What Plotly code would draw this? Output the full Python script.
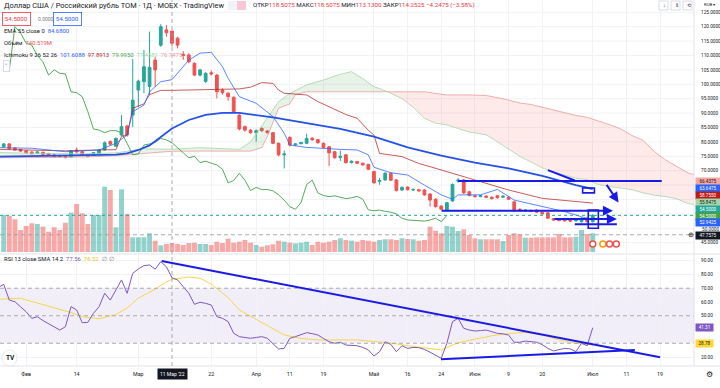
import plotly.graph_objects as go

# ---------------- data (bar index: 0 = 11 Mar 2022, trading days) ----------------
bar_idx = list(range(-30, 76))
opens = [78.3, 79.3, 77.9, 77.4, 76.9, 76.5, 76.1, 76.4, 76.0, 75.5, 75.3, 75.1, 74.8, 77.2, 76.6, 75.5, 75.3, 76.1, 77.2, 80.1,
         78.5, 82.4, 85.5, 89.3, 98.0, 100.9, 99.2, 108.4, 113.6, 118.9,
         118.5075, 116.0, 110.4, 110.2, 107.3, 103.2, 101.0, 104.0, 103.2, 98.0, 96.9, 95.5, 89.3, 85.3, 84.1, 83.2, 84.7, 83.8,
         83.2, 79.5, 75.5, 81.6, 78.9, 79.4, 79.5, 81.3, 80.8, 79.5, 78.3, 76.6, 74.6, 75.5, 72.8, 73.2, 72.6, 72.2, 69.7, 66.3,
         66.8, 69.1, 66.8, 63.3, 64.3, 63.3, 63.4, 63.3, 61.9, 60.1, 57.7, 56.4, 59.5, 66.4, 66.8, 62.7, 61.3, 61.0, 61.2, 60.8,
         61.3, 60.8, 60.8, 59.2, 56.6, 56.0, 56.2, 56.3, 55.6, 55.4, 53.3, 53.1, 53.0, 52.9, 52.6, 52.3, 53.5, 52.3]
highs = [79.6, 79.5, 78.2, 77.6, 77.1, 76.7, 76.8, 76.6, 76.2, 75.7, 75.5, 75.3, 77.1, 78.0, 76.8, 75.8, 76.5, 77.5, 80.2, 80.5,
         81.6, 89.3, 86.0, 108.8, 101.6, 111.9, 118.3, 109.6, 120.9, 120.6,
         118.5075, 116.5, 111.5, 110.8, 107.6, 105.4, 104.2, 104.8, 103.6, 98.6, 97.3, 95.8, 89.6, 85.7, 84.5, 84.3, 85.0, 84.1,
         83.5, 79.8, 77.0, 81.9, 79.6, 80.0, 82.8, 81.6, 81.0, 79.8, 78.6, 76.9, 77.0, 75.8, 73.6, 73.4, 72.8, 72.4, 70.0, 67.5,
         69.5, 69.4, 67.1, 64.6, 64.6, 63.8, 63.7, 63.6, 62.2, 60.4, 58.0, 59.2, 65.6, 67.5, 67.1, 63.0, 61.7, 61.6, 61.5, 61.1,
         61.6, 61.5, 61.1, 59.6, 56.9, 56.6, 56.5, 56.6, 55.9, 55.7, 53.6, 53.4, 53.3, 53.2, 53.2, 53.8, 53.8, 54.9]
lows = [78.0, 77.4, 77.0, 76.6, 76.0, 75.7, 75.9, 75.5, 75.2, 74.7, 74.7, 74.3, 74.6, 76.3, 75.2, 74.7, 75.1, 75.9, 77.0, 78.9,
        78.3, 82.0, 81.8, 85.1, 92.2, 96.9, 96.3, 99.2, 113.0, 116.5,
        113.13, 112.5, 108.5, 107.3, 102.8, 102.7, 100.5, 103.0, 95.1, 96.4, 94.3, 90.0, 84.0, 83.5, 82.8, 80.1, 83.5, 82.9,
        79.2, 75.0, 70.8, 78.5, 78.6, 79.1, 79.2, 80.4, 79.4, 77.8, 71.6, 74.2, 73.4, 72.5, 72.5, 72.4, 71.8, 70.2, 65.5, 65.1,
        66.5, 66.4, 62.8, 63.0, 63.1, 63.0, 62.7, 61.3, 57.5, 57.2, 56.3, 56.1, 59.2, 65.8, 62.0, 61.1, 60.7, 60.8, 60.5, 60.0,
        60.3, 60.5, 59.8, 55.6, 55.8, 55.8, 55.6, 55.3, 54.7, 53.2, 52.6, 52.4, 52.3, 52.2, 52.3, 52.0, 51.9, 52.0]
closes = [79.3, 77.6, 77.2, 76.8, 76.2, 75.9, 76.5, 75.7, 75.4, 74.9, 74.9, 74.6, 76.9, 76.5, 75.4, 74.9, 76.3, 77.2, 79.7, 79.2,
          81.2, 85.3, 82.4, 94.5, 101.1, 106.1, 105.9, 105.0, 120.0, 117.9,
          114.2525, 113.6, 110.0, 107.8, 103.2, 105.0, 103.8, 103.6, 97.4, 97.1, 95.7, 90.5, 84.5, 84.1, 83.2, 83.9, 83.9, 83.2,
          79.5, 75.5, 75.8, 78.9, 79.3, 79.8, 81.2, 80.7, 79.7, 78.1, 76.2, 74.5, 75.0, 72.8, 73.3, 72.6, 72.0, 70.5, 65.8, 66.6,
          69.1, 66.7, 63.1, 64.2, 63.4, 63.5, 63.0, 61.6, 59.8, 57.5, 56.6, 58.9, 65.2, 66.7, 62.3, 61.4, 61.0, 61.3, 60.8, 60.3,
          60.6, 61.1, 60.1, 56.4, 56.1, 56.3, 55.9, 55.6, 55.0, 53.5, 52.9, 52.7, 52.6, 52.5, 52.9, 53.5, 52.3, 54.5]
volumes_m = [3045, 2963, 2691, 1811, 2140, 2362, 2304, 2082, 1671, 2033, 1811, 2411, 3234, 3950, 3185, 2304, 3045, 3045, 5374, 5103,
             2033, 5160, 3127, 1210, 1210, 1210, 1539, 930, 551, 658,
             740.519, 658, 576, 741, 765, 658, 658, 576, 848, 741, 1095, 765, 848, 988, 765, 576, 436, 551, 634, 930, 848, 765,
             716, 765, 848, 576, 848, 765, 848, 988, 1128, 988, 930, 848, 988, 930, 848, 988, 1045, 1045, 988, 1128, 1070, 1045,
             930, 988, 2082, 1753, 1539, 2140, 2082, 1728, 1868, 1399, 1128, 1045, 1045, 1045, 1045, 905, 1399, 1539, 1457,
             1177, 1177, 1210, 1210, 1210, 1210, 1481, 1210, 1210, 1259, 1811, 1481, 1539]

tick_idx = [-26, -17, -6, 7, 15, 21, 27, 36, 42, 48, 54, 60, 66, 75, 81, 87]
tick_text = ['Фев', '14', 'Мар', '22', 'Апр', '11', '19', 'Май', '16', '24', 'Июн', '9', '20', 'Июл', '11', '19']
# ticks hidden behind the value labels in the reference are left out
price_ticks = [45, 70, 75, 80, 85, 90, 95, 100, 105, 110, 115, 120, 125]
grid_price = [45, 50, 55, 60, 65, 70, 75, 80, 85, 90, 95, 100, 105, 110, 115, 120, 125]
rsi_ticks = [20, 50, 60, 70, 80, 90]

ema_idx = [-31, -19, -10, -8, -6, -4, -2, 0, 3, 6, 9, 12, 18, 24, 30, 36, 42, 48, 54, 60, 66, 72, 75]
ema_val = [74.9, 75.2, 75.6, 76.0, 77.2, 78.8, 81.8, 84.68, 87.6, 89.4, 90.1, 90.1, 88.5, 86.4, 84.5, 81.8, 78.1, 75.2,
           72.8, 70.8, 68.2, 65.0, 63.6475]
tenkan_idx = [-31, -25, -19, -13, -10, -8, -7, -5, -4, -2, 0, 1, 3, 5, 7, 9, 10, 12, 15, 18, 20, 21, 24, 30, 33, 35, 36,
              39, 42, 45, 48, 50, 51, 55, 58, 61, 66, 70, 73, 75]
tenkan_val = [78.0, 77.8, 76.6, 77.2, 79.5, 82.4, 90.5, 92.8, 97.4, 100.9, 101.6088, 103.8, 108.4, 110.8, 111.1, 106.1, 102.1,
              95.7, 93.4, 88.8, 83.0, 78.9, 78.1, 77.4, 77.2, 75.5, 71.2, 69.3, 68.5, 65.0, 61.6, 60.1, 61.6, 61.6, 63.5,
              59.8, 57.5, 55.8, 54.0, 52.9425]
kijun_idx = [-31, -19, -13, -10, -9, -8, -7, -5, -4, -2, 0, 12, 14, 16, 18, 19, 20, 24, 26, 28, 31, 33, 35, 36, 37, 41, 44,
             46, 49, 54, 60, 66, 72, 75]
kijun_val = [77.4, 76.9, 77.2, 77.3, 81.9, 82.4, 91.7, 93.2, 96.4, 97.9, 97.8913, 98.4, 99.0, 100.6, 100.3, 98.0, 96.9, 96.3,
             94.0, 92.2, 89.5, 88.2, 84.0, 82.4, 76.0, 74.9, 72.5, 71.4, 69.7, 66.8, 63.3, 60.4, 59.2, 58.755]
cloud_idx = [-31, -25, -20, -15, -10, -5, 0, 5, 10, 12, 14, 16, 17, 19, 21, 22, 24, 27, 30, 32, 34, 36, 38.5, 41, 43, 45,
             47, 49, 53, 56, 59, 62, 64, 66, 68, 70, 72, 74, 76, 78, 80, 82, 84, 86, 88, 90, 92, 94, 96, 98, 100]
span_a = [76.3, 76.0, 75.9, 75.9, 76.2, 77.6, 77.4581, 78.0, 77.5, 77.4, 80.0, 85.5, 88.5, 94.0, 96.8, 97.8, 99.8, 101.5,
          103.5, 104.4, 102.0, 99.2, 97.4, 95.0, 92.0, 88.2, 86.5, 85.9, 83.4, 82.5, 78.8, 75.0, 73.0, 71.0, 69.6, 68.4,
          67.4, 66.9, 65.2, 64.5, 63.9, 63.4, 62.3, 61.5, 61.0, 60.2, 58.6, 58.0, 57.2, 56.5, 55.8475]
span_b = [74.5, 74.5, 74.6, 74.8, 75.2, 76.0, 76.7475, 76.8, 76.8, 76.8, 76.8, 78.0, 81.9, 91.7, 93.2, 96.4, 97.4, 97.4,
          97.4, 97.4, 97.4, 97.4, 97.4, 97.4, 97.4, 97.4, 96.8, 96.3, 96.3, 96.1, 95.0, 93.5, 93.0, 92.0, 91.0, 90.0, 89.2,
          88.5, 87.3, 86.0, 84.5, 82.2, 80.5, 76.6, 73.7, 71.5, 69.2, 68.2, 67.5, 67.0, 66.4375]
lag_shift = 26

rsi_idx = list(range(-31, 76))
rsi_val = [70.5, 72.8, 61.4, 60.2, 56.5, 52.9, 48.1, 49.3, 46.5, 44.0, 42.0, 39.6, 42.0, 56.6, 54.2, 44.9, 45.2, 51.8, 56.6,
           66.3, 61.4, 68.7, 76.0, 66.3, 80.8, 84.0, 86.4, 86.9, 83.8, 89.3, 85.6,
           77.56, 76.0, 71.1, 66.3, 58.3, 59.8, 59.0, 57.8, 49.3, 48.1, 45.7, 37.2, 34.8, 34.2, 33.6, 34.2, 34.8, 33.6, 30.0,
           25.8, 26.3, 33.6, 34.8, 36.2, 37.7, 37.0, 36.0, 33.5, 31.1, 30.0, 30.7, 28.7, 28.5, 28.2, 27.0, 25.1, 20.7, 23.9,
           31.1, 29.2, 23.9, 28.2, 26.3, 27.0, 26.8, 25.5, 23.5, 21.5, 19.1, 30.0, 45.7, 48.1, 40.9, 39.6, 38.9, 39.2, 39.6,
           38.4, 37.2, 36.8, 36.0, 30.7, 30.7, 31.6, 31.2, 30.7, 29.0, 26.3, 24.4, 25.6, 26.3, 25.9, 23.9, 30.0, 28.2, 41.31]
rsi_sma_idx = [-31, -27, -25, -21, -18, -16, -13, -10, -8, -6, -3, -1, 0, 3, 5, 7, 10, 12, 15, 17, 20, 23, 26, 33, 39, 42,
               45, 48, 49, 51, 54, 57, 60, 63, 66, 69, 72, 75]
rsi_sma_val = [62.0, 62.7, 60.4, 55.6, 52.3, 49.3, 47.8, 50.8, 55.6, 62.8, 69.3, 74.5, 76.52, 78.1, 77.2, 73.0, 63.2, 54.2,
               47.5, 43.3, 36.0, 33.5, 32.4, 32.4, 30.1, 28.3, 26.9, 25.1, 27.0, 30.3, 33.0, 35.4, 37.1, 37.9, 36.0, 32.4,
               30.0, 28.78]

crosshair_idx = 0
crosshair_price = 47.7575
last_price = 54.5

# user drawings (bar index, value)
price_lines = [((51.0, 66.4), (87.3, 66.4)), ((67.0, 70.2), (71.8, 66.6)), ((71.8, 51.4), (79.3, 51.4))]
price_arrows = [((47.8, 56.1), (78.6, 56.1)), ((67.9, 53.2), (79.3, 53.2)), ((77.3, 65.6), (79.6, 59.0))]
price_rects = [(74.2, 50.0, 76.0, 56.35), (73.2, 62.3, 75.3, 64.0)]
rsi_lines = [((-1.84, 89.8), (87.0, 19.8)), ((47.95, 18.3), (82.5, 25.1))]
event_idx = [75, 76.8, 78.0, 79.2]
event_colors = ['#ef5350', '#ff9800', '#ef5350', '#ef5350']
event_level = 44.55

assert len(opens) == len(highs) == len(lows) == len(closes) == len(volumes_m) == len(bar_idx)
assert len(rsi_idx) == len(rsi_val) and len(cloud_idx) == len(span_a) == len(span_b)

# ---------------- layout constants ----------------
PW, PH = 694, 366
XR = [-30.66, 93.05]
GRID = '#f0f2f6'
BLUE_DRAW = '#1a1ae6'
TEXT = '#131722'


def px(x):
    return x / PW


def py(y):
    return 1 - y / PH


fig = go.Figure()

# volume (base axis, underneath)
vol_colors = ['rgba(38,166,154,0.5)' if c >= o else 'rgba(239,83,80,0.5)' for o, c in zip(opens, closes)]
fig.add_trace(go.Bar(x=bar_idx, y=volumes_m, marker=dict(color=vol_colors, line=dict(width=0)),
                     xaxis='x', yaxis='y', hoverinfo='skip'))

# ichimoku cloud
s = cloud_idx.index(38.5)
fig.add_trace(go.Scatter(x=cloud_idx[:s + 1], y=span_b[:s + 1], mode='lines', line=dict(color='#ef9a9a', width=0.8),
                         xaxis='x', yaxis='y2'))
fig.add_trace(go.Scatter(x=cloud_idx[:s + 1], y=span_a[:s + 1], mode='lines', line=dict(color='#a5d6a7', width=0.8),
                         fill='tonexty', fillcolor='rgba(67,160,71,0.13)', xaxis='x', yaxis='y2'))
fig.add_trace(go.Scatter(x=cloud_idx[s:], y=span_a[s:], mode='lines', line=dict(color='#a5d6a7', width=0.8),
                         xaxis='x', yaxis='y2'))
fig.add_trace(go.Scatter(x=cloud_idx[s:], y=span_b[s:], mode='lines', line=dict(color='#ef9a9a', width=0.8),
                         fill='tonexty', fillcolor='rgba(244,67,54,0.11)', xaxis='x', yaxis='y2'))

# lagging span = closes shifted back
lag_x = [k - lag_shift for k in bar_idx if k - lag_shift >= bar_idx[0]]
lag_y = [c for k, c in zip(bar_idx, closes) if k - lag_shift >= bar_idx[0]]
fig.add_trace(go.Scatter(x=lag_x, y=lag_y, mode='lines', line=dict(color='#43a047', width=0.9), xaxis='x', yaxis='y2'))
fig.add_trace(go.Scatter(x=kijun_idx, y=kijun_val, mode='lines', line=dict(color='#b71c1c', width=0.9),
                         opacity=0.8, xaxis='x', yaxis='y2'))
fig.add_trace(go.Scatter(x=tenkan_idx, y=tenkan_val, mode='lines', line=dict(color='#2962ff', width=0.9),
                         opacity=0.85, xaxis='x', yaxis='y2'))
fig.add_trace(go.Scatter(x=ema_idx, y=ema_val, mode='lines', line=dict(color='#2451e6', width=1.8),
                         xaxis='x', yaxis='y2'))

fig.add_trace(go.Candlestick(x=bar_idx, open=opens, high=highs, low=lows, close=closes,
                             increasing=dict(line=dict(color='#26a69a', width=1), fillcolor='#26a69a'),
                             decreasing=dict(line=dict(color='#ef5350', width=1), fillcolor='#ef5350'),
                             whiskerwidth=0, xaxis='x', yaxis='y2'))

fig.add_trace(go.Scatter(x=event_idx, y=[event_level] * len(event_idx), mode='markers',
                         marker=dict(size=6, color='white', line=dict(color=event_colors, width=1.5)),
                         xaxis='x', yaxis='y2'))

# RSI panel
fig.add_trace(go.Scatter(x=rsi_sma_idx, y=rsi_sma_val, mode='lines', line=dict(color='#f7d648', width=1),
                         xaxis='x2', yaxis='y3'))
fig.add_trace(go.Scatter(x=rsi_idx, y=rsi_val, mode='lines', line=dict(color='#7e57c2', width=1),
                         xaxis='x2', yaxis='y3'))

shapes = []
# horizontal price grid (incl. levels whose tick text is hidden)
for g in grid_price:
    shapes.append(dict(type='line', xref='paper', x0=0, x1=1, yref='y2', y0=g, y1=g,
                       line=dict(color=GRID, width=1), layer='below'))
# RSI band + levels
shapes.append(dict(type='rect', xref='paper', x0=0, x1=1, yref='y3', y0=30, y1=70,
                   fillcolor='rgba(126,87,194,0.1)', line=dict(width=0), layer='below'))
for lv in (70, 50, 30):
    shapes.append(dict(type='line', xref='paper', x0=0, x1=1, yref='y3', y0=lv, y1=lv,
                       line=dict(color='#9598a1', width=0.8, dash='4px,3px')))
# pane separators / borders
shapes.append(dict(type='line', xref='paper', x0=0, x1=(PW + 26) / PW, yref='paper', y0=py(254), y1=py(254),
                   line=dict(color='#e0e3eb', width=1)))
shapes.append(dict(type='line', xref='paper', x0=0, x1=(PW + 26) / PW, yref='paper', y0=0, y1=0,
                   line=dict(color='#e0e3eb', width=1)))
shapes.append(dict(type='line', xref='paper', x0=1, x1=1, yref='paper', y0=0, y1=1,
                   line=dict(color='#e0e3eb', width=1)))
# price line and crosshair
shapes.append(dict(type='line', xref='paper', x0=0, x1=1, yref='y2', y0=last_price, y1=last_price,
                   line=dict(color='#26a69a', width=1, dash='dot')))
shapes.append(dict(type='line', xref='paper', x0=0, x1=1, yref='y2', y0=crosshair_price, y1=crosshair_price,
                   line=dict(color='#9598a1', width=0.8, dash='4px,3px')))
shapes.append(dict(type='line', xref='x', x0=crosshair_idx, x1=crosshair_idx, yref='paper', y0=0, y1=1,
                   line=dict(color='#9598a1', width=0.8, dash='4px,3px')))
# drawings
for (a, b) in price_lines:
    shapes.append(dict(type='line', xref='x', yref='y2', x0=a[0], y0=a[1], x1=b[0], y1=b[1],
                       line=dict(color=BLUE_DRAW, width=2)))
for (x0, y0, x1, y1) in price_rects:
    shapes.append(dict(type='rect', xref='x', yref='y2', x0=x0, y0=y0, x1=x1, y1=y1,
                       line=dict(color=BLUE_DRAW, width=1.6)))
for (a, b) in rsi_lines:
    shapes.append(dict(type='line', xref='x2', yref='y3', x0=a[0], y0=a[1], x1=b[0], y1=b[1],
                       line=dict(color=BLUE_DRAW, width=2)))
# header pill + top-right buttons
shapes.append(dict(type='rect', xref='paper', yref='paper', x0=px(228), x1=px(237), y0=py(10), y1=py(1),
                   fillcolor='#f0f3fa', line=dict(width=0)))
shapes.append(dict(type='rect', xref='paper', yref='paper', x0=px(237), x1=px(246), y0=py(10), y1=py(1),
                   fillcolor='#f9c6d3', line=dict(width=0)))
for bx in (659, 671, 683):
    shapes.append(dict(type='rect', xref='paper', yref='paper', x0=px(bx), x1=px(bx + 9), y0=py(10), y1=py(1),
                       fillcolor='white', line=dict(color='#d1d4dc', width=0.8)))
shapes.append(dict(type='circle', xref='paper', yref='paper', x0=px(2), x1=px(17), y0=py(366), y1=py(350),
                   fillcolor='white', line=dict(color='#e0e3eb', width=0.8)))

annotations = []
for (a, b) in price_arrows:
    annotations.append(dict(xref='x', yref='y2', axref='x', ayref='y2', x=b[0], y=b[1], ax=a[0], ay=a[1],
                            text='', showarrow=True, arrowhead=2, arrowsize=1, arrowwidth=2, arrowcolor=BLUE_DRAW))


def txt(x, y, text, size, color=TEXT, **kw):
    d = dict(xref='paper', yref='paper', x=px(x), y=py(y), text=text, showarrow=False,
             xanchor='left', yanchor='middle', font=dict(size=size, color=color))
    d.update(kw)
    annotations.append(d)


RED = '#f23645'
txt(2, 5.5, 'Доллар США / Российский рубль TOM · 1Д · MOEX · TradingView', 7.4)
txt(251, 5.5, 'ОТКР<span style="color:%s">118.5075</span> МАКС<span style="color:%s">118.5075</span> '
              'МИН<span style="color:%s">113.1300</span> ЗАКР<span style="color:%s">114.2525</span> '
              '<span style="color:%s">−4.2475 (−3.58%%)</span>' % (RED, RED, RED, RED, RED), 6.2)
txt(2, 18.5, '54.5000', 6.2, RED, bordercolor=RED, borderwidth=0.8, borderpad=2, bgcolor='white')
txt(36, 18.5, '0.0000', 5, '#787b86')
txt(53, 18.5, '54.5000', 6.2, '#2962ff', bordercolor='#2962ff', borderwidth=0.8, borderpad=2, bgcolor='white')
txt(2, 31, 'EMA 55 close 0  <span style="color:#2962ff">84.6800</span>', 5.9)
txt(2, 43, 'Объём  <span style="color:#ef5350">740.519M</span>', 5.9)
txt(2, 54.5, 'Ichimoku 9 26 52 26  <span style="color:#2962ff">101.6088</span>  '
             '<span style="color:#b71c1c">97.8913</span>  <span style="color:#43a047">79.9950</span>  '
             '<span style="color:#a5d6a7">77.4581</span>  <span style="color:#ef9a9a">76.7475</span>', 5.9)
txt(3, 66, '˄', 6, TEXT, bordercolor='#d1d4dc', borderwidth=0.8, borderpad=1.5, bgcolor='white')
txt(2, 258.5, 'RSI 13 close SMA 14 2  <span style="color:#7e57c2">77.56</span>  '
              '<span style="color:#e6c229">76.52</span>  <span style="color:#787b86">∅  ∅</span>', 5.9)
txt(4, 358, '<b>TV</b>', 6.5)
txt(661, 5.5, '↓', 5)
txt(672.5, 5.5, '⇕', 5)
txt(684.5, 5.5, '⟲', 5)
txt(702, 4.5, 'RUB ▾', 4.3)
txt(704, 374, '⚙', 8, '#131722')
txt(686, 235.3, '⊕', 7, '#131722')

# right-hand price labels
right_labels = [(181.7, '66.4375', '#f4a6a2', TEXT), (188.7, '63.6475', '#2962ff', 'white'),
                (195.4, '58.7550', '#b71c1c', 'white'), (202.2, '55.8475', '#a5d6a7', TEXT),
                (209.2, '54.5000', '#26a69a', 'white'), (216.0, '54.5000', '#43a047', 'white'),
                (222.8, '52.9425', '#2962ff', 'white'), (235.3, '47.7575', '#131722', 'white'),
                (327.7, '41.31', '#7e57c2', 'white'), (343.8, '28.78', '#fdd835', TEXT)]
for (yy, t, bg, fg) in right_labels:
    w = 22 if len(t) > 5 else 15
    annotations.append(dict(xref='paper', yref='paper', x=px(695), y=py(yy), text=t, showarrow=False,
                            xanchor='left', yanchor='middle', font=dict(size=4.6, color=fg),
                            bgcolor=bg, borderpad=1, width=w, height=5, align='center'))
# partially hidden 50.0000 tick between the stacked labels
txt(700, 229, '50.0000', 4.7)
# time-axis crosshair label
annotations.append(dict(xref='x2', yref='paper', x=crosshair_idx, y=py(374), text="11 Мар '22", showarrow=False,
                        xanchor='center', yanchor='middle', font=dict(size=5, color='white'),
                        bgcolor='#131722', borderpad=2))

fig.update_layout(
    template='none',
    width=720, height=388, margin=dict(l=0, r=26, t=0, b=22, pad=0), autosize=False,
    paper_bgcolor='white', plot_bgcolor='white', showlegend=False,
    font=dict(family='Roboto, "Noto Sans", sans-serif', color=TEXT),
    bargap=0.12, hovermode=False,
    xaxis=dict(domain=[0, 1], range=XR, anchor='y', tickvals=tick_idx, showticklabels=False, showgrid=True,
               gridcolor=GRID, gridwidth=1, zeroline=False, rangeslider=dict(visible=False), ticks='',
               automargin=False, showline=False),
    xaxis2=dict(domain=[0, 1], range=XR, anchor='y3', tickvals=tick_idx, ticktext=tick_text, showgrid=True,
                gridcolor=GRID, gridwidth=1, zeroline=False, ticks='', ticklabelstandoff=4, automargin=False,
                showline=False, tickfont=dict(size=5.3, color=TEXT)),
    yaxis=dict(domain=[1 - 253 / PH, 1], range=[-82.3, 20740], visible=False, automargin=False),
    yaxis2=dict(overlaying='y', anchor='x', side='right', range=[41.424, 129.27], tickvals=price_ticks,
                tickformat='.4f', showgrid=False, zeroline=False, ticks='', ticklabelstandoff=6,
                automargin=False, showline=False, tickfont=dict(size=4.7, color=TEXT)),
    yaxis3=dict(domain=[0, 111 / PH], anchor='x2', side='right', range=[13.47, 94.14], tickvals=rsi_ticks,
                tickformat='.2f', showgrid=True, gridcolor=GRID, zeroline=False, ticks='', ticklabelstandoff=6,
                automargin=False, showline=False, tickfont=dict(size=4.7, color=TEXT)),
    shapes=shapes, annotations=annotations,
)

fig.write_html('out.html', config={'displayModeBar': False},
               post_script="document.body.style.margin='0';document.body.style.padding='0';"
                           "document.body.style.overflow='hidden';")
